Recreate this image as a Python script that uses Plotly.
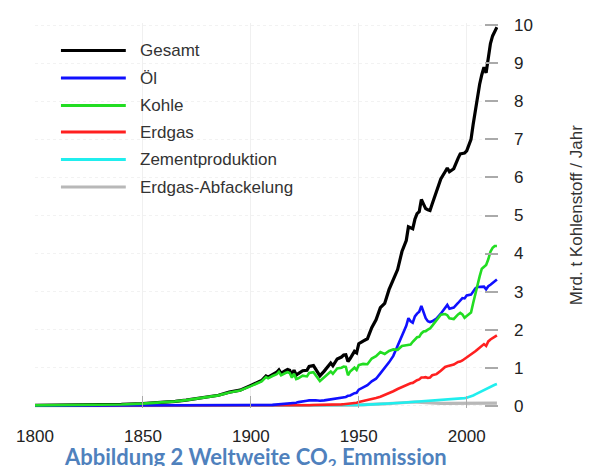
import plotly.graph_objects as go

# ---------------- data (Gt carbon per year) ----------------
years = [1800, 1810, 1820, 1830, 1840, 1850, 1855, 1860, 1865, 1870, 1875, 1880, 1885, 1890, 1895,
         1900, 1903, 1905, 1907, 1908, 1910, 1912, 1913, 1914, 1916, 1917, 1918, 1919, 1920, 1921,
         1922, 1924, 1926, 1927, 1929, 1930, 1931, 1932, 1934, 1936, 1937, 1938, 1940, 1942, 1943,
         1944, 1945, 1946, 1948, 1949, 1950, 1952, 1954, 1956, 1958, 1960, 1962, 1964, 1966, 1968,
         1970, 1972, 1973, 1974, 1975, 1976, 1977, 1978, 1979, 1980, 1981, 1982, 1983, 1984, 1986,
         1988, 1990, 1991, 1992, 1994, 1996, 1997, 1998, 1999, 2000, 2002, 2003, 2004, 2005, 2006,
         2007, 2008, 2009, 2010, 2011, 2012, 2013, 2014]

gesamt = [0.008, 0.010, 0.014, 0.024, 0.033, 0.054, 0.070, 0.091, 0.115, 0.147, 0.188, 0.236, 0.275, 0.356, 0.410,
          0.534, 0.620, 0.663, 0.783, 0.750, 0.819, 0.880, 0.943, 0.850, 0.920, 0.950, 0.930, 0.810, 0.932, 0.803,
          0.845, 0.920, 0.930, 1.030, 1.053, 0.970, 0.860, 0.783, 0.910, 1.040, 1.120, 1.050, 1.230, 1.280, 1.330,
          1.340, 1.160, 1.240, 1.430, 1.390, 1.630, 1.700, 1.760, 2.050, 2.260, 2.577, 2.690, 3.050, 3.300, 3.580,
          4.053, 4.340, 4.700, 4.680, 4.650, 4.900, 5.050, 5.100, 5.420, 5.300, 5.180, 5.150, 5.130, 5.300, 5.600,
          5.960, 6.150, 6.250, 6.150, 6.230, 6.500, 6.620, 6.630, 6.640, 6.700, 7.000, 7.400, 7.800, 8.150, 8.450,
          8.700, 8.900, 8.750, 9.200, 9.520, 9.720, 9.850, 9.950]

oel = [0.000, 0.000, 0.000, 0.000, 0.000, 0.000, 0.000, 0.000, 0.000, 0.001, 0.001, 0.002, 0.003, 0.004, 0.006,
       0.010, 0.012, 0.015, 0.018, 0.019, 0.023, 0.030, 0.035, 0.037, 0.045, 0.050, 0.053, 0.055, 0.070, 0.080,
       0.095, 0.105, 0.130, 0.140, 0.150, 0.140, 0.135, 0.130, 0.140, 0.160, 0.180, 0.180, 0.200, 0.210, 0.220,
       0.230, 0.260, 0.270, 0.330, 0.340, 0.423, 0.480, 0.540, 0.640, 0.710, 0.849, 0.980, 1.140, 1.310, 1.560,
       1.839, 2.100, 2.300, 2.220, 2.180, 2.350, 2.420, 2.470, 2.620, 2.450, 2.300, 2.220, 2.200, 2.220, 2.290,
       2.420, 2.580, 2.650, 2.550, 2.580, 2.700, 2.780, 2.830, 2.820, 2.900, 2.920, 3.000, 3.080, 3.120, 3.130,
       3.140, 3.130, 3.060, 3.140, 3.180, 3.230, 3.270, 3.320]

kohle = [0.008, 0.010, 0.014, 0.024, 0.033, 0.054, 0.070, 0.091, 0.115, 0.146, 0.187, 0.234, 0.272, 0.350, 0.400,
         0.515, 0.600, 0.640, 0.750, 0.720, 0.780, 0.830, 0.890, 0.800, 0.860, 0.880, 0.860, 0.740, 0.840, 0.700,
         0.720, 0.790, 0.770, 0.860, 0.880, 0.800, 0.700, 0.650, 0.750, 0.850, 0.900, 0.840, 0.980, 1.000, 1.030,
         1.020, 0.800, 0.900, 1.000, 0.940, 1.070, 1.100, 1.090, 1.240, 1.300, 1.410, 1.360, 1.440, 1.480, 1.470,
         1.570, 1.590, 1.610, 1.610, 1.680, 1.740, 1.800, 1.810, 1.900, 1.950, 1.960, 2.000, 2.030, 2.100, 2.250,
         2.390, 2.410, 2.380, 2.300, 2.280, 2.400, 2.440, 2.400, 2.310, 2.360, 2.450, 2.700, 2.950, 3.200, 3.400,
         3.600, 3.650, 3.700, 3.850, 4.050, 4.150, 4.200, 4.200]

erdgas = [0.000, 0.000, 0.000, 0.000, 0.000, 0.000, 0.000, 0.000, 0.000, 0.000, 0.000, 0.000, 0.001, 0.001, 0.002,
          0.003, 0.003, 0.003, 0.004, 0.004, 0.004, 0.005, 0.005, 0.005, 0.006, 0.006, 0.006, 0.006, 0.007, 0.007,
          0.008, 0.010, 0.012, 0.014, 0.020, 0.020, 0.020, 0.018, 0.020, 0.022, 0.025, 0.025, 0.030, 0.035, 0.040,
          0.045, 0.045, 0.050, 0.070, 0.080, 0.097, 0.120, 0.140, 0.170, 0.200, 0.235, 0.280, 0.330, 0.380, 0.440,
          0.493, 0.550, 0.580, 0.590, 0.600, 0.640, 0.670, 0.690, 0.740, 0.740, 0.750, 0.730, 0.740, 0.800, 0.830,
          0.920, 1.020, 1.040, 1.050, 1.080, 1.150, 1.160, 1.190, 1.230, 1.270, 1.330, 1.380, 1.430, 1.480, 1.520,
          1.560, 1.620, 1.570, 1.690, 1.740, 1.780, 1.820, 1.850]

zement = [0.000, 0.000, 0.000, 0.000, 0.000, 0.000, 0.000, 0.000, 0.000, 0.000, 0.000, 0.000, 0.000, 0.000, 0.000,
          0.000, 0.000, 0.000, 0.000, 0.000, 0.000, 0.000, 0.000, 0.000, 0.000, 0.000, 0.000, 0.000, 0.000, 0.000,
          0.000, 0.000, 0.000, 0.000, 0.010, 0.010, 0.010, 0.010, 0.010, 0.010, 0.010, 0.010, 0.010, 0.010, 0.010,
          0.010, 0.010, 0.010, 0.015, 0.015, 0.018, 0.022, 0.026, 0.030, 0.036, 0.043, 0.048, 0.057, 0.064, 0.070,
          0.078, 0.086, 0.090, 0.092, 0.093, 0.100, 0.106, 0.112, 0.116, 0.120, 0.120, 0.120, 0.122, 0.125, 0.135,
          0.145, 0.157, 0.160, 0.162, 0.170, 0.180, 0.190, 0.192, 0.200, 0.210, 0.240, 0.270, 0.300, 0.330, 0.360,
          0.390, 0.400, 0.430, 0.460, 0.500, 0.520, 0.550, 0.570]

abfackelung = [0.000, 0.000, 0.000, 0.000, 0.000, 0.000, 0.000, 0.000, 0.000, 0.000, 0.000, 0.000, 0.000, 0.000, 0.000,
               0.000, 0.000, 0.000, 0.000, 0.000, 0.000, 0.000, 0.000, 0.000, 0.000, 0.000, 0.000, 0.000, 0.000, 0.000,
               0.000, 0.000, 0.000, 0.000, 0.000, 0.000, 0.000, 0.000, 0.000, 0.000, 0.000, 0.000, 0.000, 0.000, 0.000,
               0.000, 0.000, 0.000, 0.010, 0.015, 0.023, 0.025, 0.028, 0.030, 0.035, 0.039, 0.045, 0.055, 0.065, 0.075,
               0.087, 0.092, 0.095, 0.098, 0.100, 0.098, 0.095, 0.090, 0.085, 0.080, 0.075, 0.070, 0.065, 0.062, 0.060,
               0.060, 0.060, 0.060, 0.060, 0.060, 0.060, 0.060, 0.060, 0.061, 0.061, 0.062, 0.063, 0.064, 0.065, 0.065,
               0.066, 0.066, 0.065, 0.065, 0.066, 0.067, 0.068, 0.068]

legend_labels = ["Gesamt", "Öl", "Kohle", "Erdgas", "Zementproduktion", "Erdgas-Abfackelung"]
x_ticks = [1800, 1850, 1900, 1950, 2000]
y_ticks = [0, 1, 2, 3, 4, 5, 6, 7, 8, 9, 10]

# ---------------- styling ----------------
# The page body has an 8px default margin, so the figure is 8px smaller
# and every target pixel position is shifted by -8.
OFF = 8
W, H = 594 - OFF, 466 - OFF
ML, MR, MT, MB = 34 - OFF, 96, 16 - OFF, 58
PW, PH = W - ML - MR, H - MT - MB

def px_x(px):
    return (px - OFF - ML) / PW

def px_y(py):
    return (H - MB - (py - OFF)) / PH

colors = {"Gesamt": "#000000", "Öl": "#1010ff", "Kohle": "#22dd22", "Erdgas": "#ff2020",
          "Zementproduktion": "#20eeee", "Erdgas-Abfackelung": "#b8b8b8"}
widths = {"Gesamt": 3.2, "Öl": 2.6, "Kohle": 2.6, "Erdgas": 2.6,
          "Zementproduktion": 2.6, "Erdgas-Abfackelung": 3.2}
series = {"Gesamt": gesamt, "Öl": oel, "Kohle": kohle, "Erdgas": erdgas,
          "Zementproduktion": zement, "Erdgas-Abfackelung": abfackelung}

fig = go.Figure()
draw_order = ["Erdgas-Abfackelung", "Zementproduktion", "Erdgas", "Gesamt", "Öl", "Kohle"]
for name in draw_order:
    fig.add_trace(go.Scatter(x=years, y=series[name], mode="lines", name=name,
                             line=dict(color=colors[name], width=widths[name]),
                             showlegend=False))

# manual legend (long line samples)
leg_y = [44, 72, 100, 127, 155, 183]
shapes = []
annotations = []
for lab, py in zip(legend_labels, leg_y):
    shapes.append(dict(type="line", xref="paper", yref="paper",
                       x0=px_x(60), x1=px_x(125), y0=px_y(py), y1=px_y(py),
                       line=dict(color=colors[lab], width=3.2)))
    annotations.append(dict(text=lab, xref="paper", yref="paper", x=px_x(137), y=px_y(py),
                            xanchor="left", yanchor="middle", showarrow=False,
                            font=dict(family="Liberation Sans, Arial", size=17, color="#333333")))

# axis title
annotations.append(dict(text="Mrd. t Kohlenstoff / Jahr", xref="paper", yref="paper",
                        x=px_x(577), y=0.5, xanchor="center", yanchor="middle",
                        textangle=-90, showarrow=False,
                        font=dict(family="Liberation Sans, Arial", size=17, color="#333333")))
# caption
annotations.append(dict(text="<b>Abbildung 2 Weltweite CO<sub>2</sub> Emmission</b>",
                        xref="paper", yref="paper", x=px_x(255), y=px_y(459),
                        xanchor="center", yanchor="middle", showarrow=False,
                        font=dict(family="Lato, Open Sans", size=22, color="#4f81bd")))

fig.update_layout(
    width=W, height=H,
    margin=dict(l=ML, r=MR, t=MT, b=MB, pad=0),
    paper_bgcolor="white", plot_bgcolor="white",
    shapes=shapes, annotations=annotations,
    showlegend=False,
    xaxis=dict(range=[1800, 2014.5], tickvals=x_ticks, ticks="inside", ticklen=12,
               tickcolor="#aaaaaa", tickwidth=1, showgrid=True, gridcolor="#f0f0f0",
               gridwidth=1, zeroline=False, showline=False,
               tickfont=dict(family="Liberation Sans, Arial", size=17, color="#222222"),
               ticklabelstandoff=16),
    yaxis=dict(range=[-0.06, 10.06], tickvals=y_ticks, side="right", ticks="inside",
               ticklen=13, tickcolor="#aaaaaa", tickwidth=1.5, showgrid=True,
               gridcolor="#f2f2f2", griddash="dot", zeroline=False, showline=False,
               tickfont=dict(family="Liberation Sans, Arial", size=17, color="#222222"),
               ticklabelstandoff=15),
)

fig.write_html("out.html")
